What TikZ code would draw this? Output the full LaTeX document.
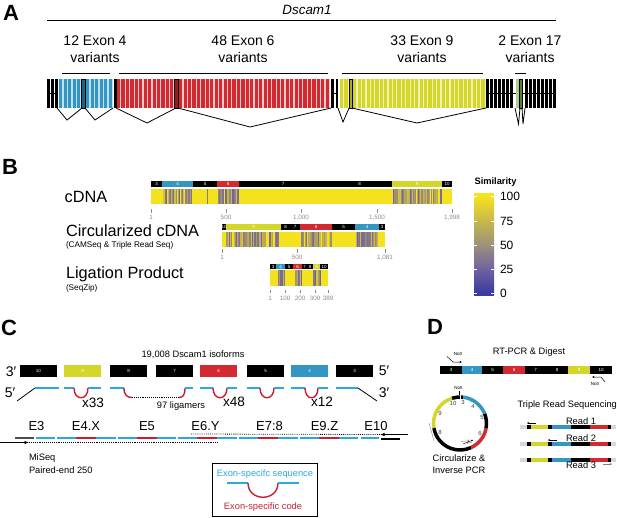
\documentclass[tikz,border=0pt]{standalone}
\usepackage{fontspec}
\setmainfont{Liberation Sans}
\usetikzlibrary{arrows.meta}
\newcommand{\myfs}[1]{\fontsize{#1}{#1}\selectfont}
\definecolor{exblue}{RGB}{52,150,195}
\definecolor{exred}{RGB}{210,42,48}
\definecolor{exyellow}{RGB}{212,214,42}
\definecolor{exgreen}{RGB}{118,172,70}
\definecolor{cyanline}{RGB}{40,170,225}
\definecolor{codered}{RGB}{200,30,50}
\definecolor{simyellow}{RGB}{245,226,30}
\definecolor{simochre}{RGB}{200,184,76}
\definecolor{simgray}{RGB}{156,145,124}
\definecolor{simpurple}{RGB}{112,98,160}
\definecolor{simblue}{RGB}{56,60,160}
\definecolor{tickgray}{RGB}{140,140,140}
\definecolor{readgray}{RGB}{215,215,215}
\newcommand{\hseg}[6]{%
  \fill[#3] ({#1+0.3},#5) rectangle ({#2-0.3},#6);
  \node[seglbl] at ({(#1+#2)/2},{(#5+#6)/2}) {#4};}
\newcommand{\stripes}[5]{%
  \foreach \k in {1,...,#5}{%
    \pgfmathsetmacro{\sw}{0.5+1.5*rnd}%
    \pgfmathsetmacro{\sx}{#1+rnd*(#2-#1-\sw)}%
    \pgfmathtruncatemacro{\sm}{20+80*rnd}%
    \fill[simpurple!\sm!simyellow] (\sx,#3) rectangle ({\sx+\sw},#4);}}
\newcommand{\ligamer}[4]{%
  \draw[cyanl] (#1,388)--(#2,388);
  \draw[redl] (#2,388) .. controls (#2,401) and (#3,401) .. (#3,388);
  \draw[cyanl] (#3,388)--(#4,388);}
\tikzset{
  panel/.style={font=\bfseries\myfs{22}},
  lbl/.style={font=\myfs{14}},
  big/.style={font=\myfs{16.3}},
  small/.style={font=\myfs{8.2}},
  txt/.style={font=\myfs{9.3}},
  seglbl/.style={font=\myfs{4.5},text=white},
  ticklbl/.style={font=\myfs{6.3},text=tickgray},
  tickline/.style={draw=tickgray,line width=0.6},
  cyanl/.style={draw=cyanline,line width=1.4},
  redl/.style={draw=codered,line width=1.4},
  dotline/.style={line width=0.8,dash pattern=on 0.8pt off 1.1pt},
  splice/.style={line width=0.8},
  ringl/.style={font=\myfs{6},text=black!75},
}
\begin{document}
\begin{tikzpicture}[x=1pt,y=-1pt,every node/.style={inner sep=0pt,outer sep=0pt}]
\useasboundingbox (0,0) rectangle (617,517);
\pgfmathsetseed{12}
% ================= Panel A =================
\node[panel] (pA) at (11,13) {A};
\node[font=\itshape\myfs{13.4}] (gene) at (307,10) {Dscam1};
\draw[line width=0.9] (47,20) -- (556,20);
\node[lbl] (l4a) at (95,41) {12 Exon 4};
\node[lbl] (l4b) at (95,57.5) {variants};
\node[lbl] (l6a) at (243,41) {48 Exon 6};
\node[lbl] (l6b) at (243,57.5) {variants};
\node[lbl] (l9a) at (422,41) {33 Exon 9};
\node[lbl] (l9b) at (422,57.5) {variants};
\node[lbl] (l17a) at (530,41) {2 Exon 17};
\node[lbl] (l17b) at (530,57.5) {variants};
\draw[line width=0.9] (62,73)--(110,73);
\draw[line width=0.9] (119,73)--(328,73);
\draw[line width=0.9] (342,73)--(483,73);
\draw[line width=0.9] (515,73)--(526,73);
% blue exon 4 variants
\fill[exblue!30] (59,79) rectangle (113,108);
\foreach \i in {0,...,11} \fill[exblue] ({59+\i*4.5},79) rectangle ++(3.3,29);
\draw[fill=exblue!65!black,line width=0.6] (81.5,79) rectangle ++(3.3,29);
% red exon 6 variants
\fill[exred!25] (117,79) rectangle (330,108);
\foreach \i in {0,...,47} \fill[exred] ({117+\i*4.44},79) rectangle ++(3.2,29);
\draw[fill=exred!70!black,line width=0.6] (174.7,79) rectangle ++(3.2,29);
% yellow exon 9 variants
\fill[exyellow!35] (340,79) rectangle (486,108);
\foreach \i in {0,...,32} \fill[exyellow] ({340+\i*4.42},79) rectangle ++(3.2,29);
\draw[fill=exyellow!80!black,line width=0.6] (348.8,79) rectangle ++(3.2,29);
% constitutive exons
\foreach \x in {47,51,55} \fill (\x,79) rectangle ++(2.5,29);
\draw[line width=0.8] (47,93.5)--(58,93.5);
\fill (113.5,79) rectangle ++(3,29);
\fill (331,79) rectangle ++(2.5,29);
\fill (335.5,79) rectangle ++(2.5,29);
\draw[line width=0.8] (331,93.5)--(338,93.5);
\foreach \i in {0,...,6} \fill ({486+\i*4},79) rectangle ++(2.6,29);
\draw[line width=0.8] (486,93.5)--(516,93.5);
\fill[exgreen!60] (516,79) rectangle ++(3,29);
\draw[fill=exgreen!75!black,line width=0.5] (519.5,79) rectangle ++(3,29);
\foreach \i in {0,...,7} \fill ({525+\i*4},79) rectangle ++(2.6,29);
\draw[line width=0.8] (523,93.5)--(556,93.5);
% splicing
\draw[splice] (57,108)--(67,120)--(82,108);
\draw[splice] (85,108)--(95,120)--(113,108);
\draw[splice] (116,108)--(147,123)--(176,108);
\draw[splice] (178,108)--(250,127)--(331,108);
\draw[splice] (338,108)--(343,122)--(349,108);
\draw[splice] (352,108)--(417,123)--(486,108);
\draw[splice] (515,108)--(518.5,124)--(520,108);
\draw[splice] (522,108)--(523,124)--(525,108);
% ================= Panel B =================
\node[panel] (pB) at (10,167) {B};
\node[big] (cdna) at (86,197) {cDNA};
\node[big,anchor=west] (circ) at (66,231) {Circularized cDNA};
\node[small,anchor=west] (circs) at (66,245) {(CAMSeq \& Triple Read Seq)};
\node[big,anchor=west] (lig) at (66,274.5) {Ligation Product};
\node[small,anchor=west] (ligs) at (66,288) {(SeqZip)};
% cDNA
\fill[simyellow] (151,189) rectangle (452,204);
\stripes{163}{193}{189}{204}{45}
\stripes{217}{239}{189}{204}{33}
\stripes{392}{443}{189}{204}{75}
\stripes{170}{240}{189}{204}{3}
\hseg{151}{162}{black}{3}{181}{186.5}
\hseg{162}{193}{exblue}{4}{181}{186.5}
\hseg{193}{217}{black}{5}{181}{186.5}
\hseg{217}{239}{exred}{6}{181}{186.5}
\hseg{239}{327}{black}{7}{181}{186.5}
\hseg{327}{392}{black}{8}{181}{186.5}
\hseg{392}{442}{exyellow}{9}{181}{186.5}
\hseg{442}{452}{black}{10}{181}{186.5}
\foreach \x/\t in {151/1,226/500,301/{1,000},377/{1,500},452/{1,998}}{
  \draw[tickline] (\x,209)--(\x,212.5);
  \node[ticklbl] at (\x,217.5) {\t};}
% circularized
\fill[simyellow] (222,232) rectangle (385,247);
\stripes{226}{281}{232}{247}{80}
\stripes{300}{332}{232}{247}{48}
\stripes{355}{379}{232}{247}{36}
\hseg{222}{226}{black}{10}{224}{229.5}
\hseg{226}{281}{exyellow}{9}{224}{229.5}
\hseg{281}{290}{black}{8}{224}{229.5}
\hseg{290}{300}{black}{7}{224}{229.5}
\hseg{300}{332}{exred}{6}{224}{229.5}
\hseg{332}{355}{black}{5}{224}{229.5}
\hseg{355}{379}{exblue}{4}{224}{229.5}
\hseg{379}{385}{black}{3}{224}{229.5}
\foreach \x/\t in {222/1,297/500,385/{1,081}}{
  \draw[tickline] (\x,249)--(\x,252.5);
  \node[ticklbl] at (\x,257.5) {\t};}
% ligation
\fill[simyellow] (270,270) rectangle (328,286);
\stripes{278}{285}{270}{286}{10}
\stripes{295}{302}{270}{286}{10}
\stripes{313}{321}{270}{286}{11}
\hseg{270}{276}{black}{3}{264}{269}
\hseg{276}{285}{exblue}{4}{264}{269}
\hseg{285}{293}{black}{5}{264}{269}
\hseg{293}{302}{exred}{6}{264}{269}
\hseg{302}{307}{black}{7}{264}{269}
\hseg{307}{313}{black}{8}{264}{269}
\hseg{313}{320}{exyellow}{9}{264}{269}
\hseg{320}{328}{black}{10}{264}{269}
\foreach \x/\t in {270/1,285/100,300/200,315/300,328/389}{
  \draw[tickline] (\x,290)--(\x,293);
  \node[ticklbl] at (\x,298) {\t};}
% similarity legend
\node[font=\bfseries\myfs{9.3}] (simt) at (495.5,182) {Similarity};
\fill[simyellow] (474,193) rectangle (494,196.5);
\shade[top color=simyellow,bottom color=simochre] (474,196) rectangle (494,221);
\shade[top color=simochre,bottom color=simgray] (474,220.8) rectangle (494,245);
\shade[top color=simgray,bottom color=simpurple] (474,244.8) rectangle (494,269);
\shade[top color=simpurple,bottom color=simblue] (474,268.8) rectangle (494,293);
\fill[simblue] (474,292.8) rectangle (494,296);
\foreach \y/\t in {196/100,221/75,245/50,269/25,293/0}{
  \draw[white,line width=0.6] (474,\y)--(477,\y) (491,\y)--(494,\y);
  \node[font=\myfs{12},anchor=west] at (500,\y) {\t};}
% ================= Panel C =================
\node[panel] (pC) at (9,328) {C};
\node[txt] (iso) at (193,355) {19,008 Dscam1 isoforms};
\hseg{20}{57}{black}{10}{365}{377}
\hseg{64}{101}{exyellow}{9}{365}{377}
\hseg{110}{147}{black}{8}{365}{377}
\hseg{156}{193}{black}{7}{365}{377}
\hseg{200}{237}{exred}{6}{365}{377}
\hseg{247}{284}{black}{5}{365}{377}
\hseg{291}{328}{exblue}{4}{365}{377}
\hseg{336}{373}{black}{3}{365}{377}
\node[lbl] (p3l) at (11,371.5) {3′};
\node[lbl] (p5l) at (10,393) {5′};
\node[lbl] (p5r) at (384,371) {5′};
\node[lbl] (p3r) at (384,393) {3′};
% ligamers
\draw[line width=0.8] (17,401)--(35,388);
\draw[cyanl] (35,388)--(59,388);
\ligamer{64}{74}{88}{101}
\draw[cyanl] (110,388)--(124,388);
\draw[redl] (124,388) .. controls (124,395) and (127,397.5) .. (132,397.5);
\draw[dotline] (132,397.5)--(179,397.5);
\draw[redl] (179,397.5) .. controls (183,397.5) and (185,395) .. (185,388);
\draw[cyanl] (185,388)--(193,388);
\ligamer{200}{213}{227}{237}
\ligamer{247}{260}{274}{284}
\ligamer{291}{305}{318}{328}
\draw[cyanl] (336,388)--(358,388);
\draw[line width=0.8] (358,388)--(377,401);
\node[font=\myfs{13.6}] (x33) at (93,403) {x33};
\node[font=\myfs{13.6}] (x48) at (234,402) {x48};
\node[font=\myfs{13.6}] (x12) at (322,402) {x12};
\node[txt] (lga) at (181,406) {97 ligamers};
% exon labels
\node[font=\myfs{13}] (e3) at (36.5,426) {E3};
\node[font=\myfs{13}] (e4) at (86,426) {E4.X};
\node[font=\myfs{13}] (e5) at (147,426) {E5};
\node[font=\myfs{13}] (e6) at (205.5,426) {E6.Y};
\node[font=\myfs{13}] (e78) at (269.5,426) {E7:8};
\node[font=\myfs{13}] (e9) at (324.5,426) {E9.Z};
\node[font=\myfs{13}] (e10) at (376,426) {E10};
% sequence
\draw[line width=1.4,black!70] (15,438)--(34,438);
\draw[cyanl] (36,438)--(55,438);
\foreach \b in {57,117.7,178.4,239.1,299.8}{
  \draw[cyanl] (\b,438)--({\b+19},438);
  \draw[redl] ({\b+19},438)--({\b+39},438);
  \draw[cyanl] ({\b+39},438)--({\b+58.5},438);}
\draw[cyanl] (361,438)--(379,438);
\draw[line width=1.4] (381,439)--(400,439);
\coordinate (fs) at (0,442.5);
\coordinate (fe) at (29,442.5);
\coordinate (rs) at (408,434.5);
\coordinate (re) at (380,434.5);
\draw[line width=0.8,-{Latex[length=4.5pt,width=3.5pt]}] (fs)--(fe);
\draw[dotline] (fe)--(218,442.5);
\draw[line width=0.8,-{Latex[length=4.5pt,width=3.5pt]}] (rs)--(re);
\draw[dotline] (191,434)--(re);
\node[txt,anchor=west] (miseq) at (29,458) {MiSeq};
\node[txt,anchor=west] (pe) at (29,470.5) {Paired-end 250};
% legend box
\draw[line width=1] (212,463) rectangle (317,516);
\node[txt,text=cyanline] (lgs) at (265,474) {Exon-specifc sequence};
\draw[cyanl] (227,483)--(248,483);
\draw[redl] (248,483) .. controls (248,502) and (278,502) .. (278,483);
\draw[cyanl] (278,483)--(299,483);
\node[txt,text=codered] (lgc) at (263,507) {Exon-specific code};
% ================= Panel D =================
\node[panel] (pD) at (435,327) {D};
\node[txt] (rtpcr) at (529,352) {RT-PCR \& Digest};
\hseg{440}{462}{black}{3}{366}{373.5}
\hseg{462}{482}{exblue}{4}{366}{373.5}
\hseg{482}{503}{black}{5}{366}{373.5}
\hseg{503}{525}{exred}{6}{366}{373.5}
\hseg{525}{546}{black}{7}{366}{373.5}
\hseg{546}{568}{black}{8}{366}{373.5}
\hseg{568}{590}{exyellow}{9}{366}{373.5}
\hseg{590}{612}{black}{10}{366}{373.5}
\node[font=\myfs{4.5}] (n1) at (458,353.5) {NotI};
\draw[line width=0.5,-{Stealth[length=2.5pt,width=2.2pt]}] (447,356.5)--(453,362)--(462,362);
\node[font=\myfs{4.5}] (n2) at (595,384) {NotI};
\draw[line width=0.5,-{Stealth[length=2.5pt,width=2.2pt]}] (605,382)--(601,377)--(592,377);
% ring
\begin{scope}[shift={(460,423.5)},y=1pt]
  \draw[line width=3.5] (83:26.5) arc[start angle=83,end angle=108,radius=26.5];
  \draw[line width=3.5,exyellow] (108:26.5) arc[start angle=108,end angle=190,radius=26.5];
  \draw[line width=3.5] (190:26.5) arc[start angle=190,end angle=295,radius=26.5];
  \draw[line width=3.5,exred] (295:26.5) arc[start angle=295,end angle=350,radius=26.5];
  \draw[line width=3.5] (350:26.5) arc[start angle=350,end angle=382,radius=26.5];
  \draw[line width=3.5,exblue] (22:26.5) arc[start angle=22,end angle=83,radius=26.5];
  \draw[white,line width=0.4] (90:24.5)--(90:28.5);
\end{scope}
\node[font=\myfs{4.5}] (n3) at (458.5,388) {NotI};
\draw[line width=0.4] (459,390.5)--(459,395);
\node[ringl] (r10) at (453,403) {10};
\node[ringl] (r3) at (463,402) {3};
\node[ringl] (r4) at (473,406) {4};
\node[ringl] (r5) at (482,417) {5};
\node[ringl] (r6) at (480,433) {6};
\node[ringl] (r7) at (468,442) {7};
\node[ringl] (r8) at (440,432) {8};
\node[ringl] (r9) at (440,413) {9};
\draw[gray,line width=0.4] (429,423)--(434,441);
\draw[line width=0.4,-{Stealth[length=2pt,width=2pt]}] (436,438)--(433.5,429);
\draw[gray,line width=0.4] (461,441.5)--(472,442.5);
\draw[line width=0.4,-{Stealth[length=2pt,width=2pt]}] (463,444)--(473,440);
\node[txt] (circt1) at (459,458) {Circularize \&};
\node[txt] (circt2) at (459,470.5) {Inverse PCR};
% triple read
\node[txt,anchor=west] (trs) at (517.5,405) {Triple Read Sequencing};
\foreach \y in {427,444,460}{
  \draw[readgray,line width=3.3] (520,\y)--(527,\y);
  \draw[line width=3.3] (527,\y)--(530.5,\y);
  \draw[exyellow,line width=3.3] (530.5,\y)--(548,\y);
  \draw[line width=3.3] (548,\y)--(552,\y);
  \draw[exblue,line width=3.3] (552,\y)--(571,\y);
  \draw[line width=3.3] (571,\y)--(590,\y);
  \draw[exred,line width=3.3] (590,\y)--(608,\y);
  \draw[line width=3.3] (608,\y)--(610.5,\y);
  \draw[readgray,line width=3.3] (610.5,\y)--(616,\y);}
\node[txt] (rd1) at (581,421) {Read 1};
\node[txt] (rd2) at (581,438.5) {Read 2};
\node[txt] (rd3) at (581,465.5) {Read 3};
\draw[line width=0.5,-{Stealth[length=2pt,width=2pt]}] (536,423)--(527,423);
\draw[line width=0.5,-{Stealth[length=2pt,width=2pt]}] (557,440)--(548,440);
\draw[line width=0.5,gray,-{Stealth[length=2pt,width=2pt]}] (603,464)--(612,464);
\end{tikzpicture}
\end{document}
